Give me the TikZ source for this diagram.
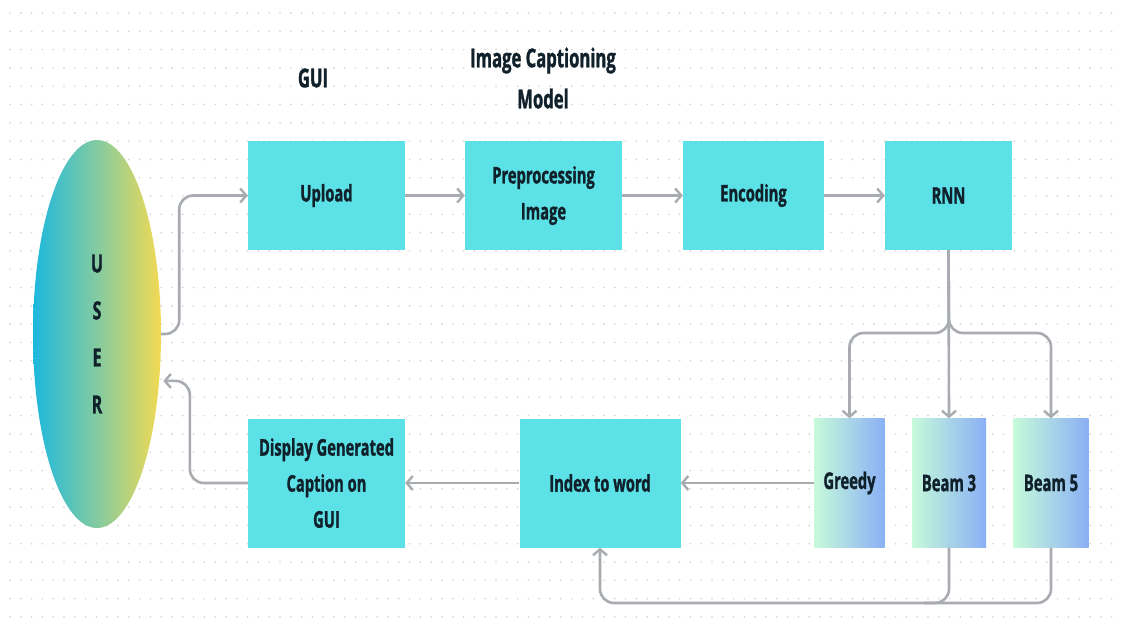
\documentclass[tikz,border=0pt]{standalone}
\usepackage{fontspec}
\setmainfont{Open Sans}[FakeStretch=0.64,BoldFeatures={FakeBold=1.2}]
\usetikzlibrary{arrows.meta,shapes.geometric,calc}
\definecolor{boxcyan}{HTML}{5CE1E6}
\definecolor{linegrey}{HTML}{A8ACB1}
\definecolor{dotgrey}{HTML}{D6D6D6}
\definecolor{txt}{HTML}{10212B}
\definecolor{gleft}{HTML}{C6FADA}
\definecolor{gright}{HTML}{8AB0F5}
\definecolor{ucyan}{HTML}{1CB8DE}
\definecolor{ugreen}{HTML}{84CBA0}
\definecolor{uyellow}{HTML}{F3DA52}
\tikzset{
  procbox/.style={draw=none, fill=boxcyan, text=txt, font=\bfseries\fontsize{23}{36}\selectfont, align=center, inner sep=0pt},
  decbox/.style={draw=none, shading=axis, left color=gleft, right color=gright, shading angle=90, text=txt, font=\bfseries\fontsize{23}{36}\selectfont, align=center, inner sep=0pt},
  conn/.style={draw=linegrey, line width=2.6pt, rounded corners=14pt},
  arr/.style={conn, -{Straight Barb[length=6pt,width=14pt,line width=2.4pt]}},
  title/.style={text=txt, font=\bfseries\fontsize{26}{41}\selectfont, align=center}
}
\begin{document}
\begin{tikzpicture}[x=1pt,y=-1pt]
\useasboundingbox (0,0) rectangle (1121,637);
\fill[white] (0,0) rectangle (1121,637);
% dotted background
\foreach \i in {0,...,102}{
  \foreach \j in {0,...,33}{
    \fill[dotgrey] ({10+\i*10.8},{13+\j*18.3}) circle (0.95);
  }
}
% titles
\node[title] (guilbl) at (313,78) {GUI};
\node[title] (icm) at (543,78) {Image Captioning\\Model};
% user
\node[ellipse, minimum width=128, minimum height=388, inner sep=0pt, draw=none,
      left color=ucyan, right color=uyellow, middle color=ugreen, shading angle=90,
      text=txt, font=\bfseries\fontsize{25}{47}\selectfont, align=center] (user) at (97,334) {U\\S\\E\\R};
% top row
\node[procbox, minimum width=157, minimum height=109] (upload) at (326.5,195.5) {Upload};
\node[procbox, minimum width=157, minimum height=109] (prep) at (543.5,195.5) {Preprocessing\\Image};
\node[procbox, minimum width=141, minimum height=109] (enc) at (753.5,195.5) {Encoding};
\node[procbox, minimum width=127, minimum height=109] (rnn) at (948.5,195.5) {RNN};
% bottom row
\node[procbox, minimum width=157, minimum height=129] (disp) at (326.5,483) {Display Generated\\Caption on\\GUI};
\node[procbox, minimum width=161, minimum height=129] (idx) at (600,483) {Index to word};
\node[decbox, minimum width=70, minimum height=129] (greedy) at (849.5,483) {Greedy};
\node[decbox, minimum width=74, minimum height=129] (beam3) at (949,483) {Beam 3};
\node[decbox, minimum width=75, minimum height=129] (beam5) at (1051,483) {Beam 5};
% helper coordinates
\coordinate (br) at (949,333);
\coordinate (bot) at (949,603);
% connectors
\draw[arr] (user.east) -- ++(18,0) |- (upload.west);
\draw[arr] (upload.east) -- (prep.west);
\draw[arr] (prep.east) -- (enc.west);
\draw[arr] (enc.east) -- (rnn.west);
\draw[arr] (rnn.south) -- (beam3.north);
\draw[arr] (rnn.south) -- (br) -- (greedy.north |- br) -- (greedy.north);
\draw[arr] (rnn.south) -- (br) -- (beam5.north |- br) -- (beam5.north);
\draw[arr] (greedy.west) -- (idx.east);
\draw[arr] (idx.west) -- (disp.east);
\draw[arr] (disp.west) -- ++(-58,0) |- ($(user.-37)+(4,0)$);
\draw[conn] (beam5.south) -- (beam5.south |- bot) -- ($(bot)+(-25,0)$);
\draw[arr] (beam3.south) -- (bot) -- (idx.south |- bot) -- (idx.south);
\end{tikzpicture}
\end{document}
